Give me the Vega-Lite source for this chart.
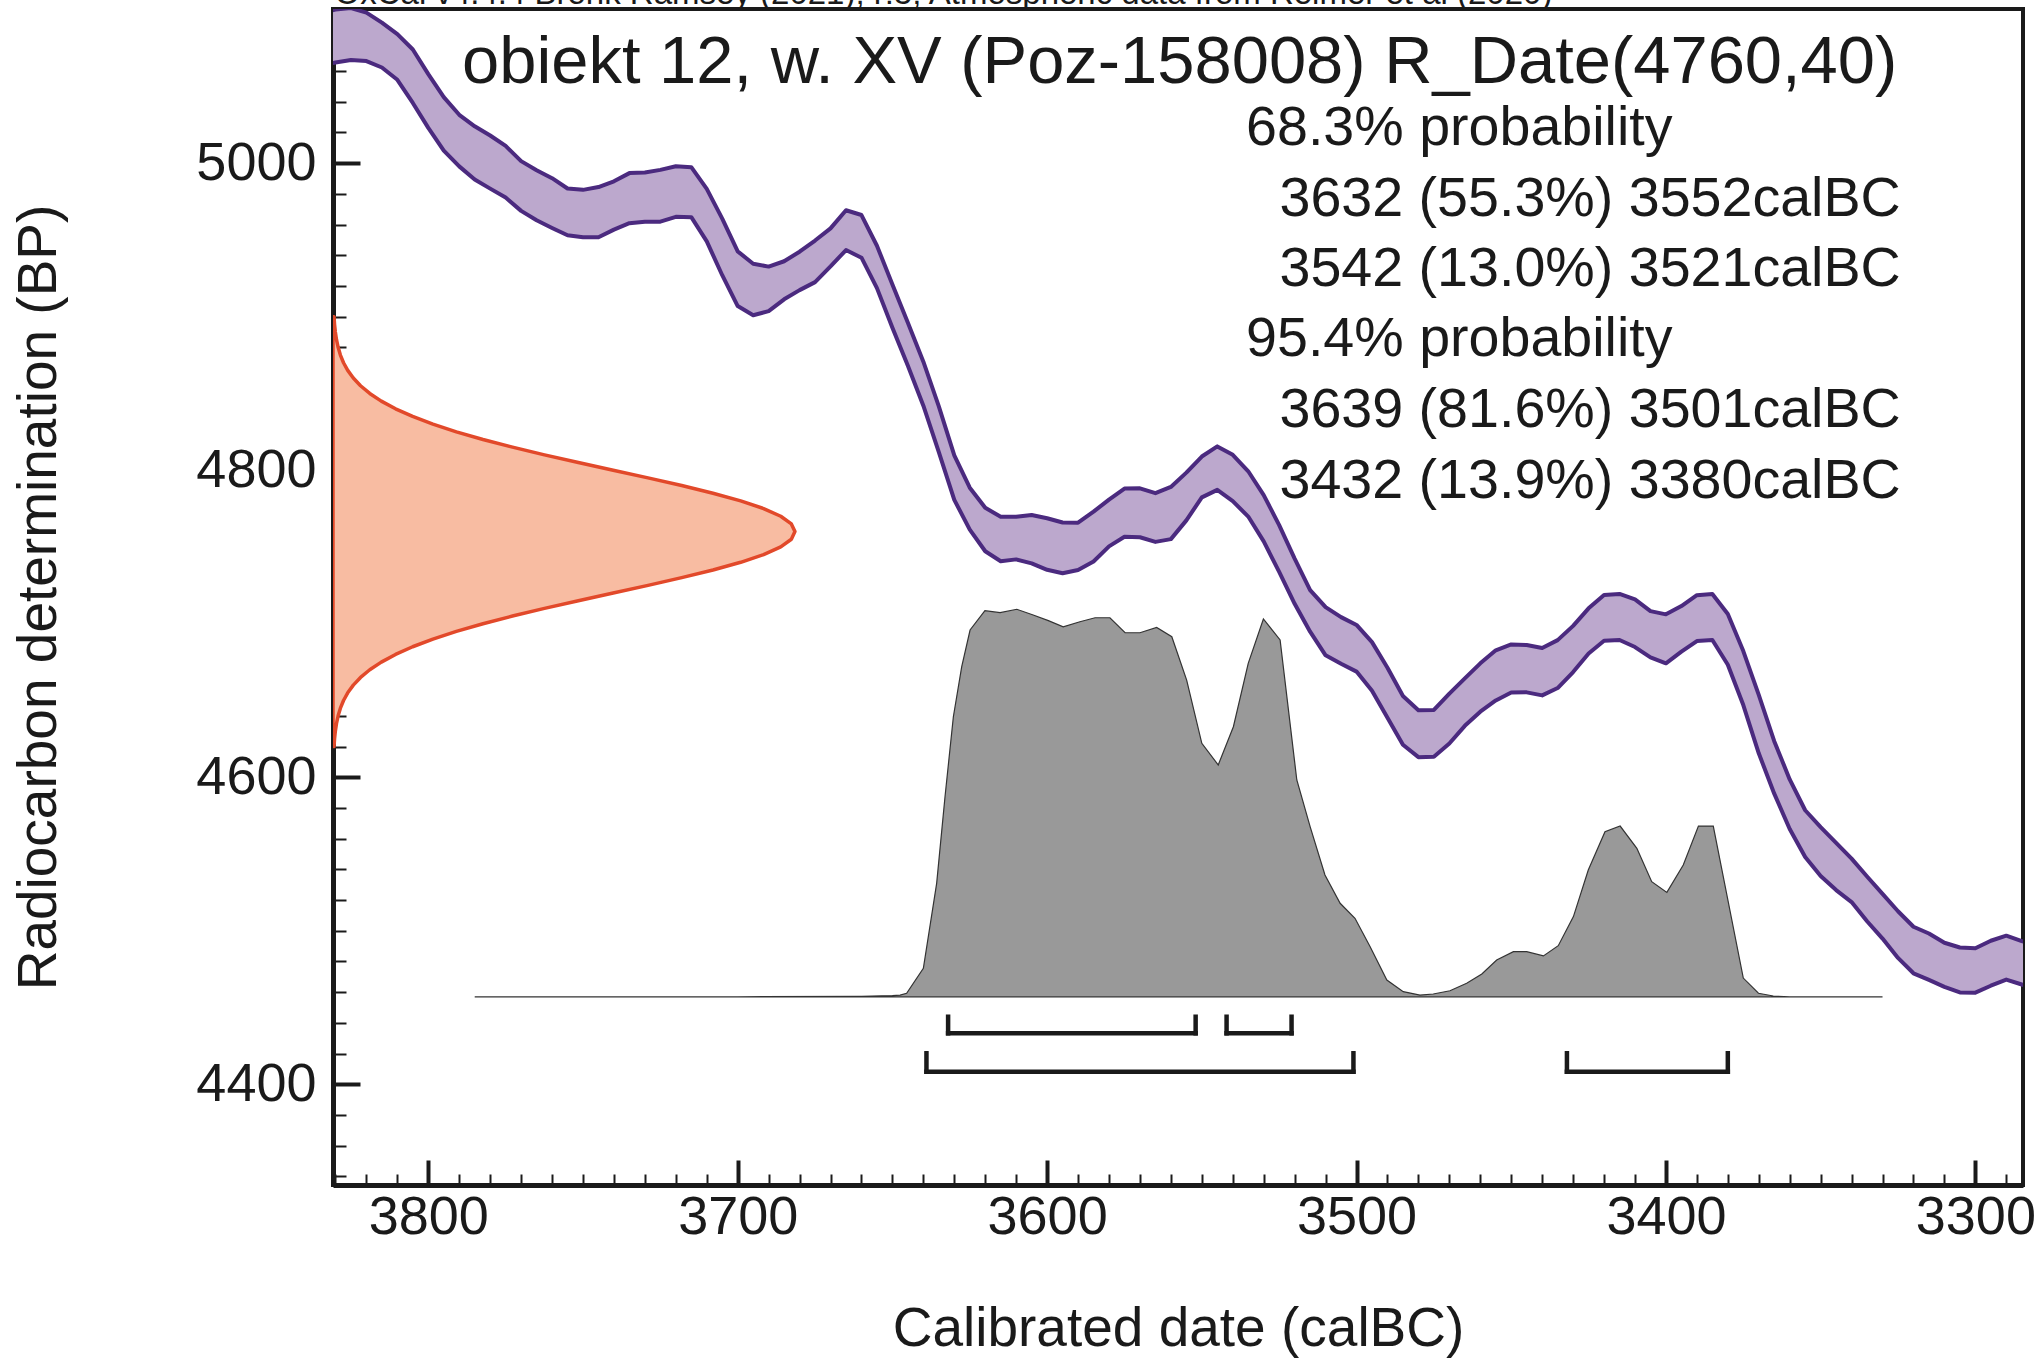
{
  "$schema": "https://vega.github.io/schema/vega-lite/v6.json",
  "width": 1690,
  "height": 1176,
  "autosize": {"type": "none"},
  "padding": {"left": 333, "top": 9, "right": 16, "bottom": 174},
  "background": "white",
  "resolve": {"axis": {"x": "independent", "y": "independent"}},
  "datasets": {
    "cal": [
      {"date": 3835, "hi": 5098, "lo": 5064},
      {"date": 3830, "hi": 5100, "lo": 5065.5},
      {"date": 3825, "hi": 5101, "lo": 5067.2},
      {"date": 3820, "hi": 5098, "lo": 5066.5},
      {"date": 3815, "hi": 5091.5, "lo": 5062.3},
      {"date": 3810, "hi": 5084, "lo": 5054.3},
      {"date": 3805, "hi": 5074, "lo": 5039.2},
      {"date": 3800, "hi": 5058, "lo": 5023},
      {"date": 3795, "hi": 5043, "lo": 5008.1},
      {"date": 3790, "hi": 5031.5, "lo": 4997.9},
      {"date": 3785, "hi": 5024, "lo": 4989.3},
      {"date": 3780, "hi": 5018, "lo": 4983.4},
      {"date": 3775, "hi": 5011.2, "lo": 4977.6},
      {"date": 3770, "hi": 5001.3, "lo": 4968.9},
      {"date": 3765, "hi": 4995.4, "lo": 4962.8},
      {"date": 3760, "hi": 4990.2, "lo": 4957.8},
      {"date": 3755, "hi": 4983.5, "lo": 4953},
      {"date": 3750, "hi": 4982.6, "lo": 4951.7},
      {"date": 3745, "hi": 4984.4, "lo": 4951.7},
      {"date": 3740, "hi": 4988.2, "lo": 4956.7},
      {"date": 3735, "hi": 4993.5, "lo": 4960.9},
      {"date": 3730, "hi": 4993.9, "lo": 4961.8},
      {"date": 3725, "hi": 4995.6, "lo": 4961.9},
      {"date": 3720, "hi": 4998, "lo": 4965},
      {"date": 3715, "hi": 4997.4, "lo": 4964.8},
      {"date": 3710, "hi": 4983.2, "lo": 4949},
      {"date": 3705, "hi": 4963.9, "lo": 4927},
      {"date": 3700, "hi": 4942.5, "lo": 4906.9},
      {"date": 3695, "hi": 4934.5, "lo": 4900.9},
      {"date": 3690, "hi": 4932.6, "lo": 4903.6},
      {"date": 3685, "hi": 4936.1, "lo": 4911.3},
      {"date": 3680, "hi": 4942.3, "lo": 4917.3},
      {"date": 3675, "hi": 4949.6, "lo": 4922.5},
      {"date": 3670, "hi": 4957.5, "lo": 4932.7},
      {"date": 3665, "hi": 4969.3, "lo": 4943.4},
      {"date": 3660, "hi": 4966.2, "lo": 4938.4},
      {"date": 3655, "hi": 4946.2, "lo": 4918.6},
      {"date": 3650, "hi": 4921, "lo": 4892.8},
      {"date": 3645, "hi": 4896, "lo": 4868.1},
      {"date": 3640, "hi": 4870.7, "lo": 4842},
      {"date": 3635, "hi": 4841.6, "lo": 4811.7},
      {"date": 3630, "hi": 4809.6, "lo": 4780.7},
      {"date": 3625, "hi": 4788.6, "lo": 4761.3},
      {"date": 3620, "hi": 4775.5, "lo": 4747.2},
      {"date": 3615, "hi": 4769.7, "lo": 4740.7},
      {"date": 3610, "hi": 4769.7, "lo": 4741.9},
      {"date": 3605, "hi": 4770.8, "lo": 4739.3},
      {"date": 3600, "hi": 4768.7, "lo": 4735.1},
      {"date": 3595, "hi": 4765.9, "lo": 4732.9},
      {"date": 3590, "hi": 4765.8, "lo": 4735},
      {"date": 3585, "hi": 4773, "lo": 4740.5},
      {"date": 3580, "hi": 4780.8, "lo": 4750.4},
      {"date": 3575, "hi": 4788, "lo": 4756.6},
      {"date": 3570, "hi": 4788.2, "lo": 4756.3},
      {"date": 3565, "hi": 4785, "lo": 4753.3},
      {"date": 3560, "hi": 4789.1, "lo": 4755.1},
      {"date": 3555, "hi": 4798.4, "lo": 4767.3},
      {"date": 3550, "hi": 4808.9, "lo": 4782.3},
      {"date": 3545, "hi": 4815.5, "lo": 4787.2},
      {"date": 3540, "hi": 4810, "lo": 4779.8},
      {"date": 3535, "hi": 4799.3, "lo": 4769.8},
      {"date": 3530, "hi": 4783.8, "lo": 4753.6},
      {"date": 3525, "hi": 4764.2, "lo": 4733.8},
      {"date": 3520, "hi": 4742.4, "lo": 4713},
      {"date": 3515, "hi": 4721.9, "lo": 4694.8},
      {"date": 3510, "hi": 4710.8, "lo": 4679.4},
      {"date": 3505, "hi": 4704.3, "lo": 4673.9},
      {"date": 3500, "hi": 4699.2, "lo": 4668.8},
      {"date": 3495, "hi": 4688, "lo": 4656.4},
      {"date": 3490, "hi": 4671.3, "lo": 4638.7},
      {"date": 3485, "hi": 4652.9, "lo": 4621.2},
      {"date": 3480, "hi": 4643.6, "lo": 4613.1},
      {"date": 3475, "hi": 4643.8, "lo": 4613.4},
      {"date": 3470, "hi": 4654.5, "lo": 4622},
      {"date": 3465, "hi": 4664.4, "lo": 4633.5},
      {"date": 3460, "hi": 4674.2, "lo": 4642.7},
      {"date": 3455, "hi": 4682.7, "lo": 4650},
      {"date": 3450, "hi": 4686.5, "lo": 4655.2},
      {"date": 3445, "hi": 4686.1, "lo": 4655.3},
      {"date": 3440, "hi": 4684.2, "lo": 4653.3},
      {"date": 3435, "hi": 4689.3, "lo": 4658.1},
      {"date": 3430, "hi": 4698.6, "lo": 4668.5},
      {"date": 3425, "hi": 4710, "lo": 4680.6},
      {"date": 3420, "hi": 4718.7, "lo": 4688.9},
      {"date": 3415, "hi": 4719.4, "lo": 4689.4},
      {"date": 3410, "hi": 4715.8, "lo": 4684.8},
      {"date": 3405, "hi": 4708.2, "lo": 4678.1},
      {"date": 3400, "hi": 4706.1, "lo": 4674.2},
      {"date": 3395, "hi": 4711.5, "lo": 4681.8},
      {"date": 3390, "hi": 4718.6, "lo": 4688.7},
      {"date": 3385, "hi": 4719.3, "lo": 4689.4},
      {"date": 3380, "hi": 4706.3, "lo": 4673.3},
      {"date": 3375, "hi": 4682.2, "lo": 4647},
      {"date": 3370, "hi": 4653.6, "lo": 4615.6},
      {"date": 3365, "hi": 4623.5, "lo": 4589.3},
      {"date": 3360, "hi": 4598.6, "lo": 4566.3},
      {"date": 3355, "hi": 4578.5, "lo": 4548},
      {"date": 3350, "hi": 4567.5, "lo": 4535.6},
      {"date": 3345, "hi": 4557.3, "lo": 4526.5},
      {"date": 3340, "hi": 4547, "lo": 4518.7},
      {"date": 3335, "hi": 4535.3, "lo": 4506.2},
      {"date": 3330, "hi": 4524, "lo": 4494.9},
      {"date": 3325, "hi": 4512.7, "lo": 4482.3},
      {"date": 3320, "hi": 4502.6, "lo": 4472.3},
      {"date": 3315, "hi": 4498.2, "lo": 4468},
      {"date": 3310, "hi": 4492.2, "lo": 4463.5},
      {"date": 3305, "hi": 4489.1, "lo": 4459.8},
      {"date": 3300, "hi": 4488.6, "lo": 4459.7},
      {"date": 3295, "hi": 4493.5, "lo": 4464.2},
      {"date": 3290, "hi": 4496.8, "lo": 4468.2},
      {"date": 3285, "hi": 4493.3, "lo": 4465},
      {"date": 3280, "hi": 4490, "lo": 4462}
    ],
    "r14c": [
      {"bp": 4620, "date": 3830.47}, {"bp": 4625, "date": 3830.3}, {"bp": 4630, "date": 3830.04},
      {"bp": 4635, "date": 3829.67}, {"bp": 4640, "date": 3829.14}, {"bp": 4645, "date": 3828.41},
      {"bp": 4650, "date": 3827.4}, {"bp": 4655, "date": 3826.04}, {"bp": 4660, "date": 3824.24},
      {"bp": 4665, "date": 3821.9}, {"bp": 4670, "date": 3818.92}, {"bp": 4675, "date": 3815.19},
      {"bp": 4680, "date": 3810.59}, {"bp": 4685, "date": 3805.06}, {"bp": 4690, "date": 3798.51},
      {"bp": 4695, "date": 3790.93}, {"bp": 4700, "date": 3782.33}, {"bp": 4705, "date": 3772.79},
      {"bp": 4710, "date": 3762.45}, {"bp": 4715, "date": 3751.51}, {"bp": 4720, "date": 3740.24},
      {"bp": 4725, "date": 3728.99}, {"bp": 4730, "date": 3718.1}, {"bp": 4735, "date": 3707.99},
      {"bp": 4740, "date": 3699.04}, {"bp": 4745, "date": 3691.64}, {"bp": 4750, "date": 3686.09},
      {"bp": 4755, "date": 3682.66}, {"bp": 4760, "date": 3681.5}, {"bp": 4765, "date": 3682.66},
      {"bp": 4770, "date": 3686.09}, {"bp": 4775, "date": 3691.64}, {"bp": 4780, "date": 3699.04},
      {"bp": 4785, "date": 3707.99}, {"bp": 4790, "date": 3718.1}, {"bp": 4795, "date": 3728.99},
      {"bp": 4800, "date": 3740.24}, {"bp": 4805, "date": 3751.51}, {"bp": 4810, "date": 3762.45},
      {"bp": 4815, "date": 3772.79}, {"bp": 4820, "date": 3782.33}, {"bp": 4825, "date": 3790.93},
      {"bp": 4830, "date": 3798.51}, {"bp": 4835, "date": 3805.06}, {"bp": 4840, "date": 3810.59},
      {"bp": 4845, "date": 3815.19}, {"bp": 4850, "date": 3818.92}, {"bp": 4855, "date": 3821.9},
      {"bp": 4860, "date": 3824.24}, {"bp": 4865, "date": 3826.04}, {"bp": 4870, "date": 3827.4},
      {"bp": 4875, "date": 3828.41}, {"bp": 4880, "date": 3829.14}, {"bp": 4885, "date": 3829.67},
      {"bp": 4890, "date": 3830.04}, {"bp": 4895, "date": 3830.3}, {"bp": 4900, "date": 3830.47}
    ],
    "post": [
      {"date": 3785, "bp": 4457}, {"date": 3700, "bp": 4457}, {"date": 3660, "bp": 4457.3},
      {"date": 3650, "bp": 4457.8}, {"date": 3647.5, "bp": 4458.1}, {"date": 3645.4, "bp": 4459.3},
      {"date": 3640, "bp": 4475.5}, {"date": 3635.7, "bp": 4530.9}, {"date": 3633, "bp": 4587.3},
      {"date": 3630.3, "bp": 4639.4}, {"date": 3627.6, "bp": 4672}, {"date": 3624.9, "bp": 4695.9},
      {"date": 3620.1, "bp": 4708.5}, {"date": 3615.2, "bp": 4707.2}, {"date": 3609.8, "bp": 4709.4},
      {"date": 3604.5, "bp": 4705.7}, {"date": 3599.6, "bp": 4702}, {"date": 3594.8, "bp": 4698},
      {"date": 3589.4, "bp": 4701.3}, {"date": 3584.5, "bp": 4703.9}, {"date": 3579.7, "bp": 4703.9},
      {"date": 3574.8, "bp": 4694.1}, {"date": 3570, "bp": 4694.1}, {"date": 3564.6, "bp": 4697.6},
      {"date": 3559.7, "bp": 4691.5}, {"date": 3554.9, "bp": 4663.3}, {"date": 3550, "bp": 4622.1},
      {"date": 3544.7, "bp": 4608}, {"date": 3539.8, "bp": 4632.9}, {"date": 3535, "bp": 4674.2},
      {"date": 3530.1, "bp": 4703.1}, {"date": 3524.7, "bp": 4689.4}, {"date": 3519.3, "bp": 4598.2},
      {"date": 3515, "bp": 4567.8}, {"date": 3510.2, "bp": 4536.3}, {"date": 3505.3, "bp": 4517.9},
      {"date": 3500.5, "bp": 4508.1}, {"date": 3495.6, "bp": 4489.6}, {"date": 3490.2, "bp": 4467.9},
      {"date": 3484.9, "bp": 4460.3}, {"date": 3479.5, "bp": 4458.1}, {"date": 3475.2, "bp": 4458.8},
      {"date": 3469.8, "bp": 4460.9}, {"date": 3464.4, "bp": 4465.8}, {"date": 3459.5, "bp": 4471.8},
      {"date": 3454.7, "bp": 4480.9}, {"date": 3449.3, "bp": 4486.4}, {"date": 3445, "bp": 4486.4},
      {"date": 3439.6, "bp": 4483.6}, {"date": 3434.8, "bp": 4490.3}, {"date": 3429.9, "bp": 4509.2},
      {"date": 3425.1, "bp": 4539.6}, {"date": 3419.7, "bp": 4564.5}, {"date": 3414.8, "bp": 4568.2},
      {"date": 3409.4, "bp": 4553.7}, {"date": 3404.6, "bp": 4532}, {"date": 3399.7, "bp": 4525},
      {"date": 3394.4, "bp": 4542.8}, {"date": 3389.5, "bp": 4568.2}, {"date": 3384.7, "bp": 4568.2},
      {"date": 3375, "bp": 4469.2}, {"date": 3370.1, "bp": 4459.3}, {"date": 3365.3, "bp": 4457.5},
      {"date": 3360, "bp": 4457}, {"date": 3330, "bp": 4457}
    ],
    "ranges": [
      {"level": "68.3%", "from": 3632, "to": 3552},
      {"level": "68.3%", "from": 3542, "to": 3521},
      {"level": "95.4%", "from": 3639, "to": 3501},
      {"level": "95.4%", "from": 3432, "to": 3380}
    ]
  },
  "layer": [
    {
      "data": {"name": "cal"},
      "mark": {"type": "area", "orient": "vertical", "fill": "#bca8cd", "clip": true},
      "encoding": {
        "x": {
          "field": "date", "type": "quantitative",
          "scale": {"domain": [3284.6, 3830.8], "reverse": true, "nice": false, "zero": false},
          "axis": {
            "orient": "bottom",
            "title": "Calibrated date (calBC)",
            "values": [3300, 3400, 3500, 3600, 3700, 3800],
            "format": "d",
            "tickSize": -25,
            "tickWidth": 4,
            "labelPadding": 30,
            "titlePadding": 58
          }
        },
        "y": {
          "field": "lo", "type": "quantitative",
          "scale": {"domain": [4334.4, 5100.4], "nice": false, "zero": false},
          "axis": {
            "orient": "left",
            "title": "Radiocarbon determination (BP)",
            "values": [4400, 4600, 4800, 5000],
            "format": "d",
            "tickSize": -27,
            "tickWidth": 4,
            "labelPadding": 44,
            "titlePadding": 128
          }
        },
        "y2": {"field": "hi"}
      }
    },
    {
      "data": {"name": "cal"},
      "mark": {"type": "line", "stroke": "#4b2a7f", "strokeWidth": 4, "strokeJoin": "round", "clip": true},
      "encoding": {
        "x": {
          "field": "date", "type": "quantitative",
          "axis": {
            "orient": "bottom",
            "title": null,
            "values": [3290,3300,3310,3320,3330,3340,3350,3360,3370,3380,3390,3400,3410,3420,3430,3440,3450,3460,3470,3480,3490,3500,3510,3520,3530,3540,3550,3560,3570,3580,3590,3600,3610,3620,3630,3640,3650,3660,3670,3680,3690,3700,3710,3720,3730,3740,3750,3760,3770,3780,3790,3800,3810,3820,3830],
            "labels": false,
            "domain": false,
            "tickSize": -11,
            "tickWidth": 2
          }
        },
        "y": {
          "field": "hi", "type": "quantitative",
          "axis": {
            "orient": "left",
            "title": null,
            "values": [4340,4360,4380,4400,4420,4440,4460,4480,4500,4520,4540,4560,4580,4600,4620,4640,4660,4680,4700,4720,4740,4760,4780,4800,4820,4840,4860,4880,4900,4920,4940,4960,4980,5000,5020,5040,5060,5080,5100],
            "labels": false,
            "domain": false,
            "tickSize": -13,
            "tickWidth": 2
          }
        }
      }
    },
    {
      "data": {"name": "cal"},
      "mark": {"type": "line", "stroke": "#4b2a7f", "strokeWidth": 4, "strokeJoin": "round", "clip": true},
      "encoding": {
        "x": {"field": "date", "type": "quantitative", "axis": null},
        "y": {"field": "lo", "type": "quantitative", "axis": null}
      }
    },
    {
      "data": {"name": "r14c"},
      "mark": {"type": "area", "orient": "horizontal", "fill": "#f8bca2", "stroke": "#e2492a", "strokeWidth": 3.5, "strokeJoin": "round", "clip": true},
      "encoding": {
        "y": {"field": "bp", "type": "quantitative", "axis": null},
        "x": {"field": "date", "type": "quantitative", "axis": null},
        "x2": {"datum": 3830.8}
      }
    },
    {
      "data": {"name": "post"},
      "mark": {"type": "area", "orient": "vertical", "fill": "#999999", "stroke": "#333333", "strokeWidth": 1.2, "clip": true},
      "encoding": {
        "x": {"field": "date", "type": "quantitative", "axis": null},
        "y": {"field": "bp", "type": "quantitative", "axis": null},
        "y2": {"datum": 4457}
      }
    },
    {
      "data": {"name": "ranges"},
      "transform": [{"filter": "datum.level === '68.3%'"}],
      "mark": {"type": "rule", "stroke": "#1a1a1a", "strokeWidth": 4.5, "strokeCap": "square"},
      "encoding": {
        "x": {"field": "from", "type": "quantitative", "axis": null},
        "x2": {"field": "to"},
        "y": {"datum": 4433.2, "type": "quantitative", "axis": null}
      }
    },
    {
      "data": {"name": "ranges"},
      "transform": [{"filter": "datum.level === '68.3%'"}, {"fold": ["from", "to"], "as": ["end", "yr"]}],
      "mark": {"type": "rule", "stroke": "#1a1a1a", "strokeWidth": 4.5, "strokeCap": "square"},
      "encoding": {
        "x": {"field": "yr", "type": "quantitative", "axis": null},
        "y": {"datum": 4433.2, "type": "quantitative", "axis": null},
        "y2": {"datum": 4444}
      }
    },
    {
      "data": {"name": "ranges"},
      "transform": [{"filter": "datum.level === '95.4%'"}],
      "mark": {"type": "rule", "stroke": "#1a1a1a", "strokeWidth": 4.5, "strokeCap": "square"},
      "encoding": {
        "x": {"field": "from", "type": "quantitative", "axis": null},
        "x2": {"field": "to"},
        "y": {"datum": 4408.2, "type": "quantitative", "axis": null}
      }
    },
    {
      "data": {"name": "ranges"},
      "transform": [{"filter": "datum.level === '95.4%'"}, {"fold": ["from", "to"], "as": ["end", "yr"]}],
      "mark": {"type": "rule", "stroke": "#1a1a1a", "strokeWidth": 4.5, "strokeCap": "square"},
      "encoding": {
        "x": {"field": "yr", "type": "quantitative", "axis": null},
        "y": {"datum": 4408.2, "type": "quantitative", "axis": null},
        "y2": {"datum": 4420.2}
      }
    },
    {
      "data": {"values": [{"label": "OxCal v4.4.4 Bronk Ramsey (2021); r:5; Atmospheric data from Reimer et al (2020)"}]},
      "mark": {"type": "text", "align": "left", "baseline": "alphabetic", "font": "Liberation Sans", "fontSize": 33, "fill": "#1a1a1a", "clip": false},
      "encoding": {
        "x": {"datum": 3830.3, "type": "quantitative", "axis": null},
        "y": {"datum": 5103.6, "type": "quantitative", "axis": null},
        "text": {"field": "label"}
      }
    },
    {
      "data": {"values": [{"label": "obiekt 12, w. XV (Poz-158008) R_Date(4760,40)"}]},
      "mark": {"type": "text", "align": "left", "baseline": "alphabetic", "font": "Liberation Sans", "fontSize": 66.9, "fill": "#1a1a1a"},
      "encoding": {
        "x": {"datum": 3789.1, "type": "quantitative", "axis": null},
        "y": {"datum": 5052, "type": "quantitative", "axis": null},
        "text": {"field": "label"}
      }
    },
    {
      "data": {"values": [{"label": "68.3% probability"}]},
      "mark": {"type": "text", "align": "left", "baseline": "alphabetic", "font": "Liberation Sans", "fontSize": 55.6, "fill": "#1a1a1a"},
      "encoding": {
        "x": {"datum": 3535.7, "type": "quantitative", "axis": null},
        "y": {"datum": 5011.5, "type": "quantitative", "axis": null},
        "text": {"field": "label"}
      }
    },
    {
      "data": {"values": [{"label": "3632 (55.3%) 3552calBC"}]},
      "mark": {"type": "text", "align": "left", "baseline": "alphabetic", "font": "Liberation Sans", "fontSize": 55.6, "fill": "#1a1a1a"},
      "encoding": {
        "x": {"datum": 3524.9, "type": "quantitative", "axis": null},
        "y": {"datum": 4965.4, "type": "quantitative", "axis": null},
        "text": {"field": "label"}
      }
    },
    {
      "data": {"values": [{"label": "3542 (13.0%) 3521calBC"}]},
      "mark": {"type": "text", "align": "left", "baseline": "alphabetic", "font": "Liberation Sans", "fontSize": 55.6, "fill": "#1a1a1a"},
      "encoding": {
        "x": {"datum": 3524.9, "type": "quantitative", "axis": null},
        "y": {"datum": 4919.8, "type": "quantitative", "axis": null},
        "text": {"field": "label"}
      }
    },
    {
      "data": {"values": [{"label": "95.4% probability"}]},
      "mark": {"type": "text", "align": "left", "baseline": "alphabetic", "font": "Liberation Sans", "fontSize": 55.6, "fill": "#1a1a1a"},
      "encoding": {
        "x": {"datum": 3535.7, "type": "quantitative", "axis": null},
        "y": {"datum": 4874.4, "type": "quantitative", "axis": null},
        "text": {"field": "label"}
      }
    },
    {
      "data": {"values": [{"label": "3639 (81.6%) 3501calBC"}]},
      "mark": {"type": "text", "align": "left", "baseline": "alphabetic", "font": "Liberation Sans", "fontSize": 55.6, "fill": "#1a1a1a"},
      "encoding": {
        "x": {"datum": 3524.9, "type": "quantitative", "axis": null},
        "y": {"datum": 4828.3, "type": "quantitative", "axis": null},
        "text": {"field": "label"}
      }
    },
    {
      "data": {"values": [{"label": "3432 (13.9%) 3380calBC"}]},
      "mark": {"type": "text", "align": "left", "baseline": "alphabetic", "font": "Liberation Sans", "fontSize": 55.6, "fill": "#1a1a1a"},
      "encoding": {
        "x": {"datum": 3524.9, "type": "quantitative", "axis": null},
        "y": {"datum": 4782.2, "type": "quantitative", "axis": null},
        "text": {"field": "label"}
      }
    }
  ],
  "config": {
    "view": {"stroke": "#1a1a1a", "strokeWidth": 4},
    "axis": {
      "grid": false,
      "zindex": 1,
      "domainColor": "#1a1a1a",
      "domainWidth": 5,
      "tickColor": "#1a1a1a",
      "labelFont": "Liberation Sans",
      "labelFontSize": 54,
      "labelColor": "#1a1a1a",
      "labelOverlap": false,
      "labelFlush": false,
      "labelBound": false,
      "titleFont": "Liberation Sans",
      "titleFontSize": 55,
      "titleFontWeight": "normal",
      "titleColor": "#1a1a1a"
    }
  }
}
